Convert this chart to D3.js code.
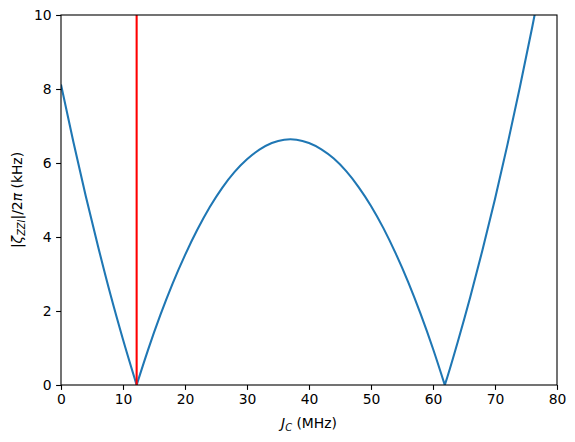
<!DOCTYPE html>
<html>
<head>
<meta charset="utf-8">
<script src="https://cdn.jsdelivr.net/npm/d3@7"></script>
<style>
  body { margin: 0; background: #fff; }
  text { font-family: "DejaVu Sans", sans-serif; }
</style>
</head>
<body>
<svg id="chart" width="575" height="442"></svg>
<script>
// coupling strength J_C (MHz) and |zeta_ZZI|/2pi (kHz)
const jc = [0, 2, 4, 6, 8, 10, 12, 12.2, 14, 16, 18, 20, 22, 24, 26, 28, 30, 32, 34, 36, 37, 38,
            40, 42, 44, 46, 48, 50, 52, 54, 56, 58, 60, 61.9, 62, 64, 66, 68, 70, 72, 74, 76, 77];
const zeta = [8.12, 6.57, 5.10, 3.73, 2.43, 1.23, 0.11, 0, 0.93, 1.88, 2.74, 3.51, 4.20, 4.81, 5.33, 5.76, 6.10, 6.36, 6.54, 6.63, 6.64, 6.63,
              6.54, 6.37, 6.12, 5.78, 5.35, 4.84, 4.24, 3.55, 2.78, 1.92, 0.98, 0, 0.05, 1.17, 2.37, 3.66, 5.03, 6.49, 8.04, 9.67, 10.52];
const markerJ = [12.2];
const xTicks = [0, 10, 20, 30, 40, 50, 60, 70, 80];
const yTicks = [0, 2, 4, 6, 8, 10];

const margin = {top: 15, right: 18, bottom: 57, left: 61};
const svg = d3.select("#chart");
const width = +svg.attr("width") - margin.left - margin.right;
const height = +svg.attr("height") - margin.top - margin.bottom;

const x = d3.scaleLinear().domain([0, 80]).range([0, width]);
const y = d3.scaleLinear().domain([0, 10]).range([height, 0]);

const g = svg.append("g")
    .attr("transform", "translate(" + margin.left + "," + margin.top + ")");

g.append("defs").append("clipPath").attr("id", "clip")
  .append("rect").attr("width", width).attr("height", height);

const plot = g.append("g").attr("clip-path", "url(#clip)");

// split the curve at its zeros so the cusps stay sharp
const pts = jc.map((d, i) => [d, zeta[i]]);
let segs = [[]];
pts.forEach(p => {
  segs[segs.length - 1].push(p);
  if (p[1] === 0) segs.push([p]);
});

const line = d3.line()
    .x(d => x(d[0]))
    .y(d => y(d[1]))
    .curve(d3.curveMonotoneX);

plot.append("path")
    .attr("fill", "none")
    .attr("stroke", "#1f77b4")
    .attr("stroke-width", 2.08)
    .attr("stroke-linejoin", "round")
    .attr("d", segs.map(s => line(s)).join(""));

plot.selectAll(".marker")
  .data(markerJ)
  .enter().append("line")
    .attr("x1", d => x(d)).attr("x2", d => x(d))
    .attr("y1", y(0)).attr("y2", y(10))
    .attr("stroke", "red")
    .attr("stroke-width", 2.08);

// axes
const xAxis = g.append("g")
    .attr("transform", "translate(0," + height + ")")
    .call(d3.axisBottom(x).tickValues(xTicks).tickSize(4.9).tickPadding(4.5));
const yAxis = g.append("g")
    .call(d3.axisLeft(y).tickValues(yTicks).tickSize(4.9).tickPadding(4.5));

[xAxis, yAxis].forEach(a => {
  a.select(".domain").remove();
  a.selectAll("line").attr("stroke", "#000").attr("stroke-width", 1.1);
  a.selectAll("text").attr("font-size", 13.9).attr("fill", "#000")
    .style("font-family", "'DejaVu Sans', sans-serif");
});

// spines
g.append("rect")
    .attr("width", width).attr("height", height)
    .attr("fill", "none").attr("stroke", "#000").attr("stroke-width", 1.1);

// x label
const xl = svg.append("text")
    .attr("x", margin.left + width / 2)
    .attr("y", 428)
    .attr("text-anchor", "middle")
    .attr("font-size", 13.9);
xl.append("tspan").attr("font-style", "italic").text("J");
xl.append("tspan").attr("font-style", "italic").attr("font-size", 9.8).attr("dy", 3).text("C");
xl.append("tspan").attr("dy", -3).text(" (MHz)");

// y label
const yl = svg.append("text")
    .attr("transform", "translate(22," + (margin.top + height / 2) + ") rotate(-90)")
    .attr("text-anchor", "middle")
    .attr("font-size", 13.9);
yl.append("tspan").text("|");
yl.append("tspan").attr("font-style", "italic").text("ζ");
yl.append("tspan").attr("font-style", "italic").attr("font-size", 9.8).attr("dy", 3).text("ZZI");
yl.append("tspan").attr("dy", -3).text("|/2");
yl.append("tspan").attr("font-style", "italic").text("π");
yl.append("tspan").text(" (kHz)");
</script>
</body>
</html>
